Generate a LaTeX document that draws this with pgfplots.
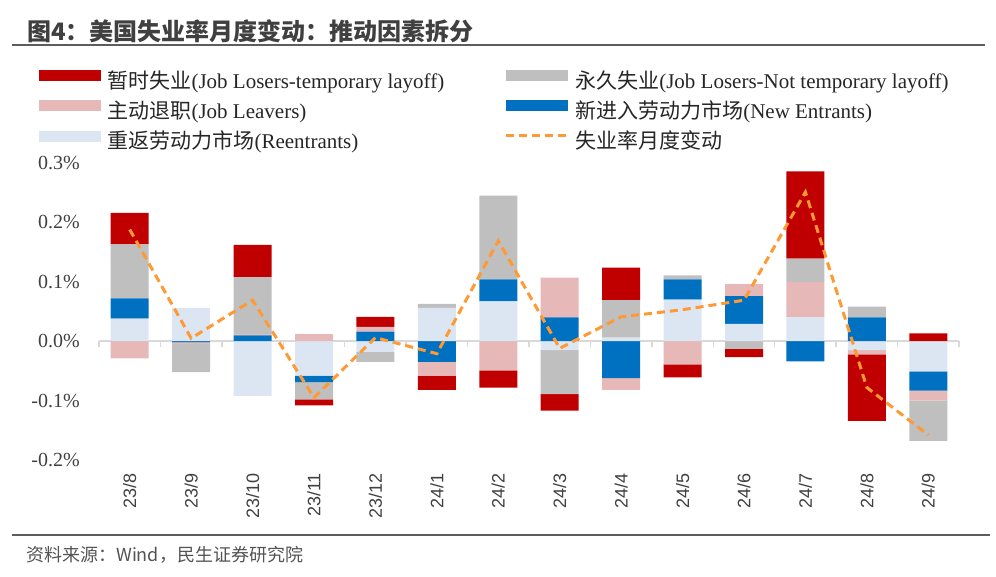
\documentclass[border=0pt]{standalone}
\usepackage{fontspec}
\setmainfont{Liberation Serif}
\setsansfont{Liberation Sans}
\newfontfamily\cjk{Noto Sans CJK SC}
\usepackage{pgfplots}
\pgfplotsset{compat=1.18}
\usepackage{pgfplotstable}

\definecolor{tred}{HTML}{C00000}
\definecolor{tgray}{HTML}{BFBFBF}
\definecolor{tpink}{HTML}{E6B9B8}
\definecolor{tblue}{HTML}{0070C0}
\definecolor{tlblue}{HTML}{DCE6F2}
\definecolor{torange}{HTML}{FF9933}
\definecolor{zerogray}{HTML}{D9D9D9}
\definecolor{titlegray}{HTML}{404040}

% positive parts of each contribution (pp)
\pgfplotstableread{
x  reent new   leav  perm  temp
0  0.038 0.034 0     0.091 0.053
1  0.056 0     0     0     0
2  0     0.010 0.002 0.096 0.054
3  0     0     0.012 0     0
4  0     0.016 0.008 0     0.017
5  0.056 0     0     0.007 0
6  0.067 0.037 0     0.141 0
7  0     0.040 0.067 0     0
8  0.006 0     0     0.063 0.055
9  0.070 0.034 0     0.007 0
10 0.029 0.047 0.020 0     0
11 0.040 0     0.060 0.039 0.147
12 0     0.040 0     0.018 0
13 0     0     0     0     0.013
}\posdata
% negative parts
\pgfplotstableread{
x  reent  new    leav   perm   temp
0  0      0      -0.029 0      0
1  0      -0.002 -0.003 -0.047 0
2  -0.092 0      0      0      0
3  -0.058 -0.011 0      -0.029 -0.010
4  -0.018 0      0      -0.017 0
5  0      -0.035 -0.023 0      -0.024
6  0      0      -0.049 0      -0.029
7  -0.015 0      0      -0.074 -0.028
8  0      -0.062 -0.020 0      0
9  0      0      -0.039 0      -0.022
10 0      0      0      -0.013 -0.014
11 0      -0.034 0      0      0
12 -0.015 0      -0.007 0      -0.112
13 -0.051 -0.032 -0.017 -0.068 0
}\negdata
% monthly change of the unemployment rate
\pgfplotstableread{
x  chg
0  0.188
1  0.005
2  0.069
3  -0.095
4  0.006
5  -0.021
6  0.169
7  -0.012
8  0.041
9  0.053
10 0.069
11 0.251
12 -0.078
13 -0.158
}\chgdata

\pgfplotsset{
  base/.style={scale only axis, width=860pt, height=297pt,
    at={(99pt,116pt)}, anchor=south west,
    xmin=-0.5, xmax=13.5, ymin=-0.2, ymax=0.3},
  swatch/.style={legend image code/.code={\fill[#1] (0pt,3pt) rectangle (61pt,13pt);}},
}

\begin{document}
\begin{tikzpicture}[x=1pt,y=1pt]
\useasboundingbox (0,0) rectangle (996,576);

\node[anchor=west, inner sep=0pt, text=titlegray,
  font=\cjk\bfseries\fontsize{24}{24}\selectfont] at (27,545) {图4：美国失业率月度变动：推动因素拆分};
\draw[line width=2pt, titlegray!85] (12,530.5) -- (985,530.5);
\draw[line width=2.5pt, titlegray!85] (12,41) -- (990,41);
\node[anchor=west, inner sep=0pt, text=titlegray!90,
  font=\cjk\fontsize{18}{18}\selectfont] at (26,21.5) {资料来源：Wind，民生证券研究院};

% negative stacks, zero line with ticks
\begin{axis}[base, ybar stacked, bar width=38pt,
  axis x line=middle, axis y line=none,
  x axis line style={-, draw=zerogray, line width=2pt},
  xtick={-0.5,0.5,...,13.5}, xticklabels={},
  xtick align=outside, major tick length=6pt,
  xtick style={draw=zerogray, line width=1.5pt},
  ytick=\empty]
  \addplot[fill=tlblue, draw=none] table[x=x, y=reent] {\negdata};
  \addplot[fill=tblue, draw=none] table[x=x, y=new] {\negdata};
  \addplot[fill=tpink, draw=none] table[x=x, y=leav] {\negdata};
  \addplot[fill=tgray, draw=none] table[x=x, y=perm] {\negdata};
  \addplot[fill=tred, draw=none] table[x=x, y=temp] {\negdata};
\end{axis}

% positive stacks
\begin{axis}[base, ybar stacked, bar width=38pt, hide axis]
  \addplot[fill=tlblue, draw=none] table[x=x, y=reent] {\posdata};
  \addplot[fill=tblue, draw=none] table[x=x, y=new] {\posdata};
  \addplot[fill=tpink, draw=none] table[x=x, y=leav] {\posdata};
  \addplot[fill=tgray, draw=none] table[x=x, y=perm] {\posdata};
  \addplot[fill=tred, draw=none] table[x=x, y=temp] {\posdata};
\end{axis}

% line, labels, legend
\begin{axis}[base,
  axis x line=bottom, axis y line=left,
  axis line style={draw=none}, tick style={draw=none},
  major tick length=0pt,
  /pgf/number format/assume math mode=true,
  xtick={0,...,13},
  xticklabels={23/8,23/9,23/10,23/11,23/12,24/1,24/2,24/3,24/4,24/5,24/6,24/7,24/8,24/9},
  xticklabel style={yshift=-13pt, rotate=90, anchor=east, inner sep=0pt,
    text=titlegray, font=\sffamily\fontsize{18}{18}\selectfont},
  ytick={-0.2,-0.1,...,0.3},
  yticklabel={\pgfmathprintnumber[fixed,fixed zerofill,precision=1]{\tick}\%},
  yticklabel style={anchor=east, inner sep=0pt, xshift=-19pt,
    text=titlegray, font=\fontsize{20}{20}\selectfont},
  legend columns=2, legend cell align=left,
  legend style={draw=none, fill=none, at={(-0.0698,1.313)}, anchor=north west,
    inner sep=0pt, column sep=7pt, row sep=7pt,
    font=\fontsize{21}{21}\selectfont, text=black!85,
    nodes={inner sep=0pt, text height=15pt, text depth=5pt},
    /tikz/every even column/.append style={column sep=60pt}},
  ]
  \addplot[sharp plot, no marks, draw=torange, line width=3pt,
    dash pattern=on 8pt off 5pt, forget plot] table[x=x, y=chg] {\chgdata};

  \addlegendimage{swatch=tred}
  \addlegendentry{{\cjk 暂时失业}(Job Losers-temporary layoff)}
  \addlegendimage{swatch=tgray}
  \addlegendentry{{\cjk 永久失业}(Job Losers-Not temporary layoff)}
  \addlegendimage{swatch=tpink}
  \addlegendentry{{\cjk 主动退职}(Job Leavers)}
  \addlegendimage{swatch=tblue}
  \addlegendentry{{\cjk 新进入劳动力市场}(New Entrants)}
  \addlegendimage{swatch=tlblue}
  \addlegendentry{{\cjk 重返劳动力市场}(Reentrants)}
  \addlegendimage{legend image code/.code={\draw[torange, line width=3pt,
    dash pattern=on 8pt off 5pt] (0pt,8pt) -- (61pt,8pt);}}
  \addlegendentry{{\cjk 失业率月度变动}}
\end{axis}
\end{tikzpicture}
\end{document}
